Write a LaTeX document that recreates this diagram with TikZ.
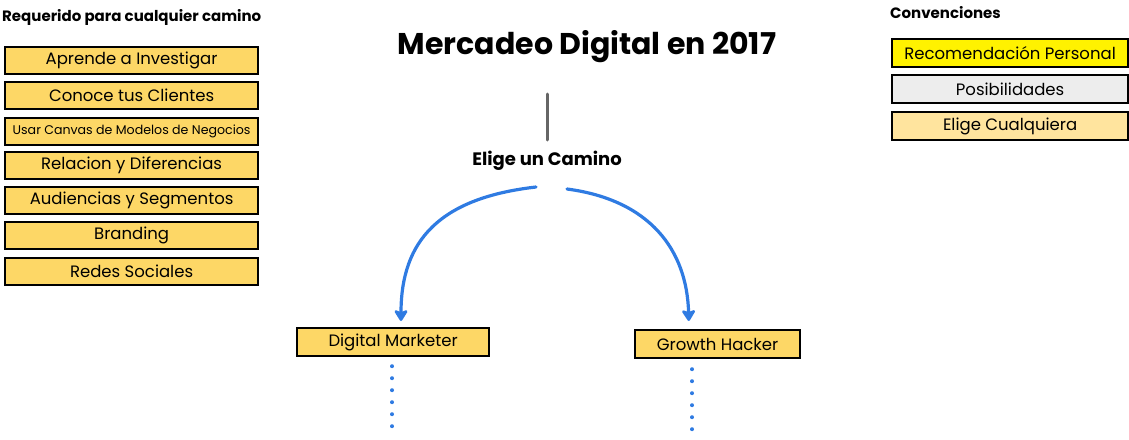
\documentclass[tikz,border=0pt]{standalone}
\usepackage{fontspec}
\setmainfont{Poppins}
\usetikzlibrary{arrows.meta}
\definecolor{boxfill}{HTML}{FDD766}
\definecolor{lightfill}{HTML}{FFE49E}
\definecolor{grayfill}{HTML}{EDEDED}
\definecolor{pathblue}{HTML}{2F7BE2}
\definecolor{linegray}{HTML}{666666}
\tikzset{
  card/.style={draw=black, line width=2.2pt, fill=boxfill, inner sep=0pt, anchor=north west},
  header/.style={font=\fontsize{15}{17}\selectfont\bfseries, inner sep=0pt},
  pathline/.style={draw=pathblue, line width=3.2pt, line cap=round, -{Stealth[length=13pt,width=16pt,inset=3pt,round]}},
  dotline/.style={draw=pathblue, line width=4pt, line cap=round, dash pattern=on 0pt off 12pt}
}
\newcommand{\cardfont}{\fontsize{16.5}{18}\selectfont}
\begin{document}
\begin{tikzpicture}[x=1pt,y=-1pt]
\useasboundingbox (0,0) rectangle (1129,439);
% header left
\node[header, anchor=west] (req) at (2,17) {Requerido para cualquier camino};
% left column
\foreach \n/\y/\t/\fs in {l1/46/Aprende a Investigar/16.5, l2/81/Conoce tus Clientes/16.5, l3/117/Usar Canvas de Modelos de Negocios/12.6, l4/151/Relacion y Diferencias/16.5, l5/186/Audiencias y Segmentos/16.5, l6/221/Branding/16.5, l7/257/Redes Sociales/16.5}{
  \node[card, minimum width=253pt, minimum height=27pt, font=\fontsize{\fs}{18}\selectfont] (\n) at (4,\y) {\t};
}
% title
\node[font=\fontsize{30}{34}\selectfont\bfseries] (title) at (587,47) {Mercadeo Digital en 2017};
\coordinate (vtop) at (547,94);
\coordinate (vbot) at (547,140);
\draw[linegray, line width=3pt, line cap=round] (vtop) -- (vbot);
\node[font=\fontsize{18}{20}\selectfont\bfseries] (choose) at (547,161) {Elige un Camino};
% path boxes
\node[card, minimum width=192pt, minimum height=28pt] (dm) at (296,327) {\cardfont Digital Marketer};
\node[card, minimum width=165pt, minimum height=28pt] (gh) at (634,329) {\cardfont Growth Hacker};
% arrows
\coordinate (s1) at (536,187);
\coordinate (s2) at (567,189);
\draw[pathline, shorten >=6pt] (s1) .. controls (440,198) and (401,240) .. (dm.north -| 401,0);
\draw[pathline, shorten >=8pt] (s2) .. controls (650,200) and (687,250) .. (gh.north -| 689,0);
% dotted continuation
\coordinate (d1) at (392,430);
\coordinate (d2) at (692,432);
\draw[dotline] ([yshift=-9pt]dm.south -| 392,0) -- (d1);
\draw[dotline] ([yshift=-10pt]gh.south -| 692,0) -- (d2);
% conventions
\node[header, anchor=west] (conv) at (890,13) {Convenciones};
\node[card, fill=yellow, minimum width=236pt, minimum height=28pt] (c1) at (891,38) {\cardfont Recomendación Personal};
\node[card, fill=grayfill, minimum width=236pt, minimum height=28pt] (c2) at (891,74) {\cardfont Posibilidades};
\node[card, fill=lightfill, minimum width=236pt, minimum height=28pt] (c3) at (891,111) {\cardfont Elige Cualquiera};
\end{tikzpicture}
\end{document}
